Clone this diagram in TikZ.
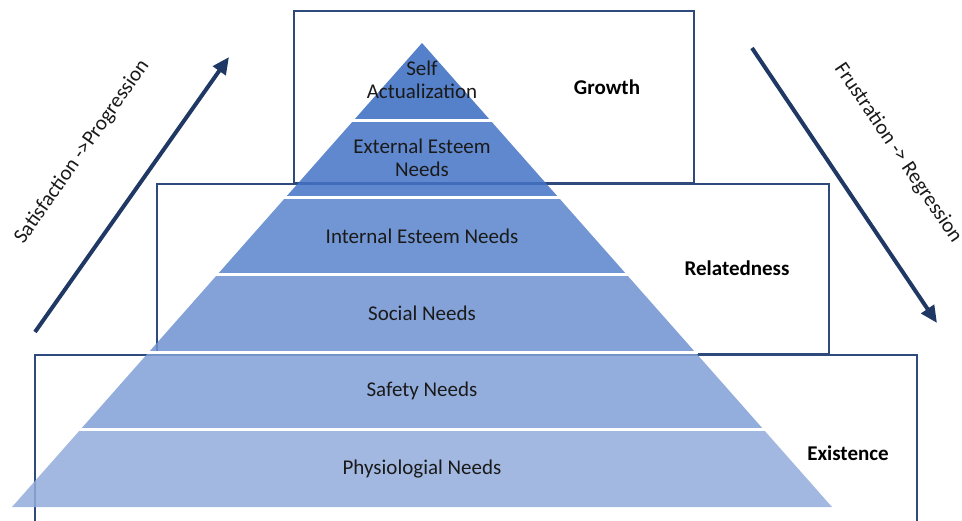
\documentclass[tikz,border=0pt]{standalone}
\usepackage{fontspec}
\setmainfont{Carlito}
\usetikzlibrary{arrows.meta}
\definecolor{boxline}{HTML}{2E4A7D}
\definecolor{arrowc}{HTML}{203864}
\definecolor{txt}{HTML}{1A1A1A}
\definecolor{bandA}{HTML}{376AC1}
\definecolor{bandB}{HTML}{4473C5}
\definecolor{bandC}{HTML}{5884CB}
\definecolor{bandD}{HTML}{6E92D1}
\definecolor{bandE}{HTML}{80A0D7}
\definecolor{bandF}{HTML}{92ACDC}
\tikzset{
  groupbox/.style={draw=boxline, line width=2.2pt},
  band/.style={fill opacity=0.85, draw=none},
  gap/.style={draw=white, line width=3pt},
  bandtext/.style={text=txt, align=center, font=\fontsize{21}{23}\selectfont},
  grouplabel/.style={text=black, font=\fontsize{21}{23}\selectfont\bfseries},
  flowarrow/.style={draw=arrowc, line width=4pt, -{Triangle[length=17pt,width=15pt]}},
  flowtext/.style={text=txt, font=\fontsize{21}{23}\selectfont},
}
\begin{document}
\begin{tikzpicture}[x=1pt,y=-1pt]
\useasboundingbox (0,0) rectangle (962,521);
\clip (0,0) rectangle (962,521);

% ERG group frames
\draw[groupbox] (294,11) rectangle (694,183);
\draw[groupbox] (157,184) rectangle (829,354);
\draw[groupbox] (35,540) -- (35,355) -- (917,355) -- (917,540);

% Pyramid: apex (422,43), base y=507, half-width 410, six equal levels
\def\apx{422}
\def\apy{43}
\foreach \i/\col in {0/bandA,1/bandB,2/bandC,3/bandD,4/bandE,5/bandF}{
  \pgfmathsetmacro\ya{\apy+\i*464/6}
  \pgfmathsetmacro\yb{\apy+(\i+1)*464/6}
  \pgfmathsetmacro\wa{\i*410/6}
  \pgfmathsetmacro\wb{(\i+1)*410/6}
  \fill[band, fill=\col] (\apx-\wa,\ya) -- (\apx+\wa,\ya) -- (\apx+\wb,\yb) -- (\apx-\wb,\yb) -- cycle;
}
% white separators between levels
\foreach \i in {1,...,5}{
  \pgfmathsetmacro\ya{\apy+\i*464/6}
  \pgfmathsetmacro\wa{\i*410/6+3}
  \draw[gap] (\apx-\wa,\ya) -- (\apx+\wa,\ya);
}

% level labels
\node[bandtext] (self) at (422,80) {Self\\Actualization};
\node[bandtext] (ext) at (422,158) {External Esteem\\Needs};
\node[bandtext] (int) at (422,236) {Internal Esteem Needs};
\node[bandtext] (soc) at (422,313) {Social Needs};
\node[bandtext] (saf) at (422,391) {Safety Needs};
\node[bandtext] (phy) at (422,469) {Physiologial Needs};

% group labels
\node[grouplabel] (growth) at (607,87) {Growth};
\node[grouplabel] (related) at (737,268) {Relatedness};
\node[grouplabel] (exist) at (848,453) {Existence};

% progression / regression arrows
\coordinate (pa) at (35,332);
\coordinate (pb) at (229,57);
\coordinate (ra) at (752,48);
\coordinate (rb) at (937,323);
\draw[flowarrow] (pa) -- (pb);
\draw[flowarrow] (ra) -- (rb);
\node[flowtext, rotate=55] (sat) at (82,152) {Satisfaction ->Progression};
\node[flowtext, rotate=-56] (fru) at (898,153) {Frustration -> Regression};
\end{tikzpicture}
\end{document}
